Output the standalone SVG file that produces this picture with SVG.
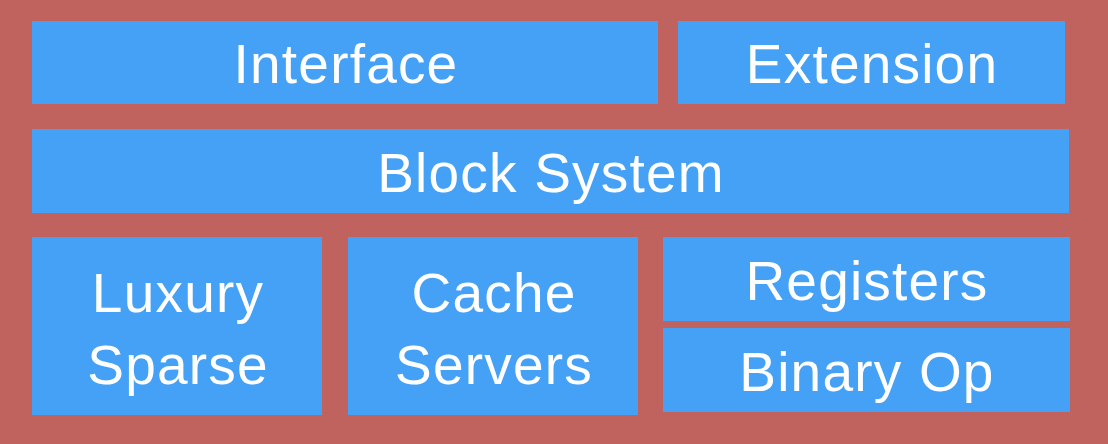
<svg xmlns="http://www.w3.org/2000/svg" width="1108" height="444" viewBox="0 0 1108 444">
<style>
.box{fill:#45A1F6}
.lbl{font-family:"Liberation Sans",Arial,sans-serif;font-size:55px;fill:#FFFFFF;text-anchor:middle;letter-spacing:1.2px}
</style>
<rect x="0" y="0" width="1108" height="444" fill="#C0625E"/>
<g id="interface"><rect class="box" x="32" y="21" width="626" height="83"/><text class="lbl" x="346" y="83">Interface</text></g>
<g id="extension"><rect class="box" x="678" y="21" width="387" height="83"/><text class="lbl" x="872" y="83">Extension</text></g>
<g id="block-system"><rect class="box" x="32" y="129" width="1037" height="84"/><text class="lbl" x="551" y="192">Block System</text></g>
<g id="luxury-sparse"><rect class="box" x="32" y="237" width="290" height="178"/><text class="lbl" x="178" y="312">Luxury</text><text class="lbl" x="178" y="384">Sparse</text></g>
<g id="cache-servers"><rect class="box" x="348" y="237" width="290" height="178"/><text class="lbl" x="494" y="312">Cache</text><text class="lbl" x="494" y="384">Servers</text></g>
<g id="registers"><rect class="box" x="663" y="237" width="407" height="84"/><text class="lbl" x="867" y="300">Registers</text></g>
<g id="binary-op"><rect class="box" x="663" y="328" width="407" height="84"/><text class="lbl" x="867" y="391">Binary Op</text></g>
<g id="connectors"></g>
</svg>
